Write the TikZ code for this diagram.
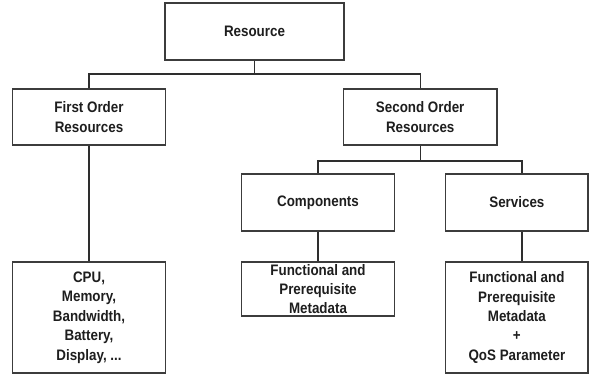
\documentclass[tikz,border=0pt]{standalone}
\usepackage{fontspec}
\setmainfont{Liberation Sans}[FakeStretch=0.88]
\definecolor{boxline}{HTML}{3C3C3C}
\definecolor{conline}{HTML}{2E2E2E}
\definecolor{txt}{HTML}{1E1E1E}
\begin{document}
\begin{tikzpicture}[x=1pt,y=-1pt,
  box/.style={draw=boxline,line width=1.3pt,fill=white,inner sep=0pt,align=center,
    text=txt,font=\fontsize{15.2}{19.4}\selectfont\bfseries,
    minimum width=#1},
  box/.default=152.6pt,
  con/.style={draw=conline,line width=1.2pt}]
\useasboundingbox[fill=white] (0,0) rectangle (589,375);
\node[box=179pt,minimum height=57pt] (res) at (254.5,31.5) {Resource};
\node[box,minimum height=56pt] (first) at (89,117) {First Order\\Resources};
\node[box=153.7pt,minimum height=56pt] (second) at (420.2,117) {Second Order\\Resources};
\node[box,minimum height=57pt] (comp) at (318,202.5) {Components};
\node[box=142.3pt,minimum height=57pt] (serv) at (516.9,202.5) {Services};
\node[box,minimum height=111pt] (cpu) at (89,317.5) {CPU,\\Memory,\\Bandwidth,\\Battery,\\Display, ...};
\node[box,minimum height=54pt] (fmeta) at (318,289) {Functional and\\Prerequisite\\Metadata};
\node[box=142.3pt,minimum height=111pt] (smeta) at (516.9,317.5) {Functional and\\Prerequisite\\Metadata\\+\\QoS Parameter};
\coordinate (j1) at (254.5,74);
\coordinate (j2) at (420.2,161);
\draw[con] (res.south) -- (j1);
\draw[con] (first.north) |- (j1) -| (second.north);
\draw[con] (second.south) -- (j2);
\draw[con] (comp.north) |- (j2) -| ([xshift=5pt]serv.north);
\draw[con] (first.south) -- (cpu.north);
\draw[con] (comp.south) -- (fmeta.north);
\draw[con] ([xshift=5pt]serv.south) -- ([xshift=5pt]smeta.north);
\end{tikzpicture}
\end{document}
